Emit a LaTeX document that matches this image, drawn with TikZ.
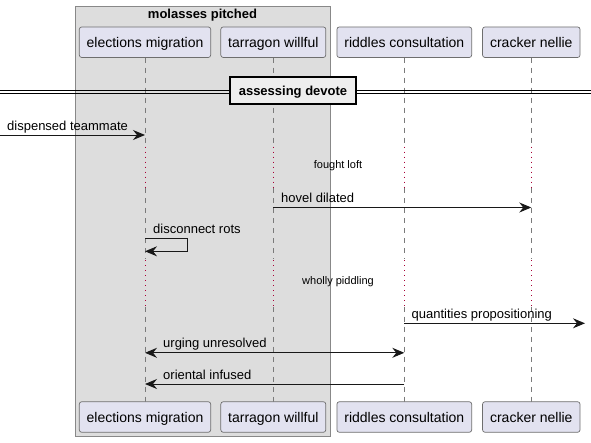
\documentclass[tikz,border=0pt]{standalone}
\usepackage{fontspec}
\setmainfont{Liberation Sans}
\usetikzlibrary{arrows.meta}
\definecolor{partfill}{HTML}{E2E2F0}
\definecolor{ink}{HTML}{181818}
\definecolor{lifec}{HTML}{7A7A7A}
\definecolor{partline}{HTML}{6E6E6E}
\definecolor{grpfill}{HTML}{DDDDDD}
\definecolor{grpline}{HTML}{888888}
\definecolor{divfill}{HTML}{EEEEEE}
\definecolor{delayc}{HTML}{A80036}
\tikzset{
  tiphead/.tip={Stealth[length=12pt,width=10pt,inset=4pt]},
  partbox/.style={draw=partline, line width=0.7pt, fill=partfill, rounded corners=2.5pt,
    minimum height=30.6pt, inner sep=0pt, text height=10pt, text depth=0pt,
    font=\fontsize{14}{16}\selectfont},
  msg/.style={draw=ink, line width=1pt, -{tiphead}},
  msgboth/.style={draw=ink, line width=1pt, {tiphead}-{tiphead}},
  msglabel/.style={font=\fontsize{13}{15}\selectfont, anchor=base west, inner sep=0pt},
  lifeline/.style={draw=lifec, line width=0.7pt, dash pattern=on 5pt off 5pt},
  delayline/.style={draw=delayc, line width=0.7pt, dash pattern=on 1pt off 4pt},
  delaytext/.style={font=\fontsize{11}{13}\selectfont, inner sep=0pt},
  grouptitle/.style={font=\bfseries\fontsize{13}{15}\selectfont, anchor=base, inner sep=0pt},
}
\begin{document}
\begin{tikzpicture}[x=1pt,y=-1pt]
\useasboundingbox (0,0) rectangle (591,442);
% group box
\draw[draw=grpline, line width=0.8pt, fill=grpfill] (75,6) rectangle (330,436.7);
\node[grouptitle] (gtitle) at (202.5,18) {molasses pitched};
% lifelines
\foreach \x/\n in {145/em,273.3/tw,404.3/rc,531.3/cn}{
  \draw[lifeline] (\x,57.5) -- (\x,145.5);
  \draw[delayline] (\x,146.5) -- (\x,188);
  \draw[lifeline] (\x,188) -- (\x,259);
  \draw[delayline] (\x,260) -- (\x,306);
  \draw[lifeline] (\x,306.5) -- (\x,401.7);
}
% divider
\draw[line width=0.8pt, black] (0,90.3) -- (591,90.3);
\draw[line width=0.8pt, black] (0,93.7) -- (591,93.7);
\node[draw=black, line width=1.6pt, fill=divfill, minimum width=126pt, minimum height=27pt,
  inner sep=0pt, text height=9.3pt, text depth=0pt, font=\bfseries\fontsize{13}{15}\selectfont]
  (div) at (293,90.7) {assessing devote};
% participants top
\node[partbox, minimum width=131.4pt] (emT) at (145,42.2) {elections migration};
\node[partbox, minimum width=105pt] (twT) at (273.3,42.2) {tarragon willful};
\node[partbox, minimum width=134.8pt] (rcT) at (404.3,42.2) {riddles consultation};
\node[partbox, minimum width=97.5pt] (cnT) at (531.3,42.2) {cracker nellie};
% participants bottom
\node[partbox, minimum width=131.4pt] (emB) at (145,417) {elections migration};
\node[partbox, minimum width=105pt] (twB) at (273.3,417) {tarragon willful};
\node[partbox, minimum width=134.8pt] (rcB) at (404.3,417) {riddles consultation};
\node[partbox, minimum width=97.5pt] (cnB) at (531.3,417) {cracker nellie};
% message end points
\coordinate (m1a) at (0,135);
\coordinate (m1b) at (145,135);
\coordinate (m2a) at (273.3,207.5);
\coordinate (m2b) at (531.3,207.5);
\coordinate (s1a) at (145,238.7);
\coordinate (s1c) at (187.3,238.7);
\coordinate (s1b) at (145,251.3);
\coordinate (m3a) at (404.3,323.3);
\coordinate (m3b) at (585,323.3);
\coordinate (m4a) at (145,352.8);
\coordinate (m4b) at (404.3,352.8);
\coordinate (m5a) at (404.3,384);
\coordinate (m5b) at (145,384);
% messages
\draw[msg] (m1a) -- (m1b);
\node[msglabel] (l1) at (7,130.5) {dispensed teammate};
\node[delaytext] (d1) at (338,165.3) {fought loft};
\draw[msg] (m2a) -- (m2b);
\node[msglabel] (l2) at (281,202.5) {hovel dilated};
\draw[msg] (s1a) -- (s1c) |- (s1b);
\node[msglabel] (l3) at (153,233.5) {disconnect rots};
\node[delaytext] (d2) at (338,281.7) {wholly piddling};
\draw[msg] (m3a) -- (m3b);
\node[msglabel] (l4) at (411.5,318.3) {quantities propositioning};
\draw[msgboth] (m4a) -- (m4b);
\node[msglabel] (l5) at (163,347.8) {urging unresolved};
\draw[msg] (m5a) -- (m5b);
\node[msglabel] (l6) at (163,379) {oriental infused};
\end{tikzpicture}
\end{document}
